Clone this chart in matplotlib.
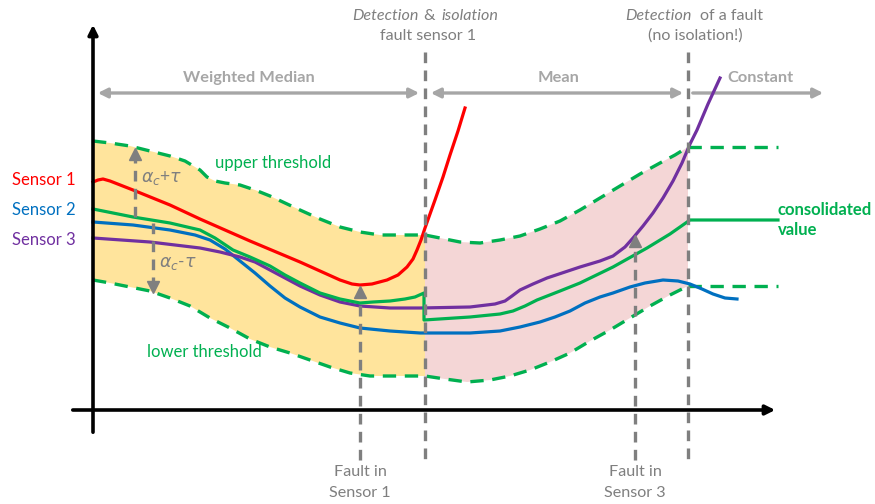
import matplotlib.pyplot as plt

# ---------------- data (chart units: x to the right, y downward like the sketch)

up_x = [93, 110, 130, 150, 170, 185, 200, 207, 215, 225, 240, 255, 270, 285, 300, 320, 340, 360, 380, 400,
        425, 440, 460, 480, 500, 520, 540, 560, 580, 600, 620, 640, 660, 675, 688]
up_y = [141, 143, 146, 151, 156, 161, 170, 177, 181, 183, 185, 190, 196, 203, 210, 219, 227, 232, 235, 235,
        235, 238, 242, 243, 240, 236, 229, 221, 210, 198, 186, 174, 163, 155, 147]

lo_x = [93, 110, 130, 150, 170, 190, 210, 230, 250, 270, 290, 310, 330, 350, 370, 400,
        425, 445, 467, 490, 510, 530, 550, 570, 590, 610, 630, 650, 670, 688]
lo_y = [280, 283, 287, 291, 298, 306, 318, 328, 339, 347, 353, 360, 367, 373, 376, 376,
        376, 379, 382, 380, 376, 370, 362, 353, 341, 330, 318, 306, 295, 286]

s1_x = [93, 98, 103, 110, 133, 170, 200, 250, 300, 320, 340, 352, 360, 372, 387, 398, 407, 413, 417, 421,
        425, 430, 435, 443, 450, 458, 465]
s1_y = [182, 180, 179, 181, 190, 205, 219, 241, 262, 271, 280, 284, 285, 284, 280, 275, 267, 259, 250, 240,
        228, 214, 200, 177, 155, 131, 108]

s2_x = [93, 133, 170, 195, 210, 225, 240, 255, 270, 285, 300, 320, 340, 360, 390, 420, 470, 500, 520, 540,
        555, 570, 585, 600, 613, 630, 645, 663, 678, 690, 702, 713, 725, 737]
s2_y = [222, 225, 230, 235, 240, 249, 261, 273, 286, 298, 307, 317, 323, 328, 331, 333, 333, 331, 327, 322,
        317, 311, 303, 297, 293, 287, 283, 280, 281, 284, 289, 294, 298, 299]

s3_x = [93, 150, 200, 220, 240, 255, 270, 285, 300, 320, 340, 360, 390, 420, 470, 495, 505, 512, 520, 533,
        547, 565, 580, 600, 613, 625, 633, 643, 653, 663, 673, 682, 690, 697, 708, 720]
s3_y = [238, 242, 248, 252, 257, 262, 270, 278, 286, 295, 302, 306, 308, 308, 307, 304, 301, 296, 290, 284,
        278, 272, 267, 261, 256, 247, 238, 226, 213, 198, 181, 163, 144, 130, 104, 78]

cons_x = [93, 133, 170, 200, 215, 233, 250, 270, 285, 300, 320, 340, 360, 373, 390, 405, 415, 424, 424,
          470, 500, 513, 525, 537, 560, 580, 613, 647, 670, 690, 778]
cons_y = [209, 217, 223, 230, 238, 250, 257, 266, 275, 283, 293, 299, 303, 302, 301, 299, 297, 293, 320,
          317, 314, 311, 306, 300, 291, 283, 267, 248, 234, 220, 220]

detect1_x = 425      # detection & isolation of sensor 1
detect2_x = 688      # detection of a fault
fault1 = (360, 287)  # fault in sensor 1 (x, arrow tip)
fault3 = (635, 236)  # fault in sensor 3
axis_origin = (93, 410)

# ---------------- colours

RED, BLUE, PURPLE, GREEN = '#FF0000', '#0070C0', '#7030A0', '#00B050'
GRAY, LGRAY = '#7F7F7F', '#A6A6A6'
YELLOW, PINK = '#FFE49C', '#F4D6D6'

plt.rcParams['font.family'] = ['Lato', 'DejaVu Sans']

fig = plt.figure(figsize=(8.75, 5.04), dpi=100)
ax = fig.add_axes([0, 0, 1, 1])
ax.set_xlim(0, 875)
ax.set_ylim(504, 0)
ax.axis('off')


def band(x0, x1):
    ux = [x for x in up_x if x0 <= x <= x1]
    uy = [y for x, y in zip(up_x, up_y) if x0 <= x <= x1]
    lx = [x for x in lo_x if x0 <= x <= x1]
    ly = [y for x, y in zip(lo_x, lo_y) if x0 <= x <= x1]
    return ux + lx[::-1], uy + ly[::-1]


# threshold band
ax.fill(*band(axis_origin[0], detect1_x), color=YELLOW, lw=0, zorder=1)
ax.fill(*band(detect1_x, detect2_x), color=PINK, lw=0, zorder=1)

dash = dict(color=GREEN, lw=2.4, ls=(0, (4, 2.6)), zorder=3)
ax.plot(up_x, up_y, **dash)
ax.plot(lo_x, lo_y, **dash)
ax.plot([detect2_x, 778], [up_y[-1], up_y[-1]], **dash)
ax.plot([detect2_x, 778], [lo_y[-1], lo_y[-1]], **dash)

# sensors and consolidated value
ax.plot(s1_x, s1_y, color=RED, lw=2.3, zorder=4, solid_joinstyle='round')
ax.plot(s2_x, s2_y, color=BLUE, lw=2.3, zorder=4, solid_joinstyle='round')
ax.plot(s3_x, s3_y, color=PURPLE, lw=2.3, zorder=4, solid_joinstyle='round')
ax.plot(cons_x, cons_y, color=GREEN, lw=2.3, zorder=4, solid_joinstyle='round')

# axes arrows
ax.annotate('', xy=(axis_origin[0], 22), xytext=(axis_origin[0], 435),
            arrowprops=dict(arrowstyle='-|>', color='black', lw=2.6, mutation_scale=14), zorder=6)
ax.annotate('', xy=(778, axis_origin[1]), xytext=(70, axis_origin[1]),
            arrowprops=dict(arrowstyle='-|>', color='black', lw=2.6, mutation_scale=14), zorder=6)

# detection lines
vdash = dict(color=GRAY, lw=2.4, ls=(0, (3.2, 2.2)), zorder=5)
for xv in (detect1_x, detect2_x):
    ax.plot([xv, xv], [52, 460], **vdash)

# fault arrows
for fx, ftip in (fault1, fault3):
    ax.plot([fx, fx], [460, ftip + 8], **vdash)
    ax.plot(fx, ftip + 5, marker='^', ms=9, color=GRAY, mec=GRAY, zorder=5)

# alpha arrows
ax.plot([135, 135], [217, 156], **vdash)
ax.plot(135, 154, marker='^', ms=9, color=GRAY, zorder=5)
ax.plot([153, 153], [223, 284], **vdash)
ax.plot(153, 287, marker='v', ms=9, color=GRAY, zorder=5)
ax.text(141, 178, r'$\alpha_c$+$\tau$', color=GRAY, fontsize=12.5, va='center', ha='left', zorder=6)
ax.text(159, 264, r'$\alpha_c$-$\tau$', color=GRAY, fontsize=12.5, va='center', ha='left', zorder=6)

# strategy arrows
harr = dict(color=LGRAY, lw=2.4, mutation_scale=14)
ax.annotate('', xy=(95, 93), xytext=(422, 93), arrowprops=dict(arrowstyle='<|-|>', **harr))
ax.annotate('', xy=(428, 93), xytext=(686, 93), arrowprops=dict(arrowstyle='<|-|>', **harr))
ax.annotate('', xy=(826, 93), xytext=(690, 93), arrowprops=dict(arrowstyle='-|>', **harr))
sk = dict(color=LGRAY, fontsize=11.8, fontweight='bold', ha='center', va='center')
ax.text(249, 78, 'Weighted Median', **sk)
ax.text(559, 78, 'Mean', **sk)
ax.text(760, 78, 'Constant', **sk)

# top annotations
tk = dict(color=GRAY, fontsize=11.6, va='center')
ax.text(352, 16, 'Detection', style='italic', ha='left', **tk)
ax.text(423, 16, '&', ha='left', **tk)
ax.text(441, 16, 'isolation', style='italic', ha='left', **tk)
ax.text(428, 36, 'fault sensor 1', ha='center', **tk)
ax.text(625, 16, 'Detection', style='italic', ha='left', **tk)
ax.text(700, 16, 'of a fault', ha='left', **tk)
ax.text(695, 36, '(no isolation!)', ha='center', **tk)

# bottom annotations
for fx, lab in ((fault1[0], 'Sensor 1'), (fault3[0], 'Sensor 3')):
    ax.text(fx, 472, 'Fault in', ha='center', **tk)
    ax.text(fx, 493, lab, ha='center', **tk)

# labels
lk = dict(fontsize=12, va='center', ha='left')
ax.text(12, 180, 'Sensor 1', color=RED, **lk)
ax.text(12, 210, 'Sensor 2', color=BLUE, **lk)
ax.text(12, 240, 'Sensor 3', color=PURPLE, **lk)
ax.text(215, 163, 'upper threshold', color=GREEN, **lk)
ax.text(147, 352, 'lower threshold', color=GREEN, **lk)
ax.text(778, 210, 'consolidated', color=GREEN, fontweight='bold', **lk)
ax.text(778, 230, 'value', color=GREEN, fontweight='bold', **lk)

plt.savefig('out.png', dpi=100)
